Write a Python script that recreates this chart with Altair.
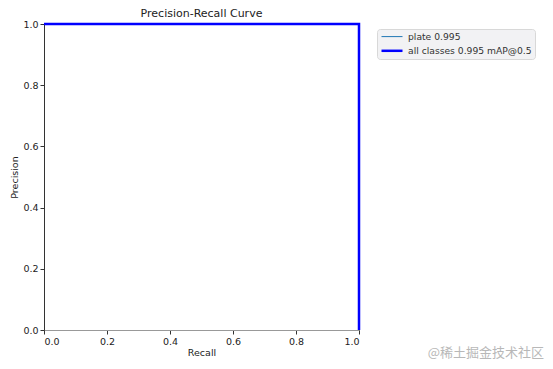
import altair as alt
import pandas as pd

# Data
series_names = ["plate 0.995", "all classes 0.995 mAP@0.5"]
recall = [0.0, 1.0, 1.0]
precision_plate = [1.0, 1.0, 0.0]
precision_all = [1.0, 1.0, 0.0]
series_colors = ["#1f77b4", "#0000ff"]
series_widths = [1, 2.5]
x_ticks = [0.0, 0.2, 0.4, 0.6, 0.8, 1.0]
y_ticks = [0.0, 0.2, 0.4, 0.6, 0.8, 1.0]
watermark = "@稀土掘金技术社区"

rows = []
for name, prec in zip(series_names, [precision_plate, precision_all]):
    for i, (r, p) in enumerate(zip(recall, prec)):
        rows.append({"series": name, "recall": r, "precision": p, "order": i})
df = pd.DataFrame(rows)

font = "DejaVu Sans"

legend_cfg = dict(title=None, orient="none", legendX=333, legendY=5,
                  symbolType="M-1,0H5", symbolSize=49,
                  labelFont=font, labelFontSize=9.2, labelColor="#333",
                  fillColor="#f2f2f4", strokeColor="#d8d8d8",
                  padding=3, cornerRadius=3, rowPadding=3.8, labelOffset=18)

lines = alt.Chart(df).mark_line(clip=False).encode(
    x=alt.X("recall:Q", title="Recall",
            scale=alt.Scale(domain=[0, 1], nice=False, zero=False),
            axis=alt.Axis(values=x_ticks, format=".1f", grid=False,
                          domainColor="#999999", tickColor="#333333",
                          tickSize=4, labelFontSize=9.5, titleFontSize=9.5,
                          labelFont=font, titleFont=font, labelColor="#222",
                          titleColor="#222", titleFontWeight="normal",
                          labelPadding=2, titlePadding=2)),
    y=alt.Y("precision:Q", title="Precision",
            scale=alt.Scale(domain=[0, 1], nice=False, zero=False),
            axis=alt.Axis(values=y_ticks, format=".1f", grid=False,
                          domainColor="#333333", tickColor="#333333",
                          tickSize=4, labelFontSize=9.5, titleFontSize=9.5,
                          labelFont=font, titleFont=font, labelColor="#222",
                          titleColor="#222", titleFontWeight="normal",
                          labelPadding=2, titlePadding=3)),
    color=alt.Color("series:N", sort=series_names,
                    scale=alt.Scale(domain=series_names, range=series_colors),
                    legend=alt.Legend(**legend_cfg)),
    strokeWidth=alt.StrokeWidth("series:N", sort=series_names,
                                scale=alt.Scale(domain=series_names, range=series_widths),
                                legend=alt.Legend(**legend_cfg)),
    order=alt.Order("order:Q"),
    detail="series:N",
)

wm = alt.Chart(pd.DataFrame({"t": [watermark]})).mark_text(
    font="Noto Sans CJK SC", fontSize=13, color="#b8b8b8", align="right", baseline="middle"
).encode(text="t:N", x=alt.value(500), y=alt.value(329))

chart = alt.layer(lines, wm).properties(
    width=315, height=306,
    title=alt.Title("Precision-Recall Curve", font=font, fontSize=11, fontWeight="normal",
                    color="#222", anchor="middle", offset=0),
    autosize=alt.AutoSizeParams(type="none"),
    padding={"left": 36, "top": 16, "right": 186, "bottom": 30},
).configure_view(stroke="#333333", strokeWidth=1)

chart.save("out.html", embed_options={"renderer": "svg", "actions": False})
